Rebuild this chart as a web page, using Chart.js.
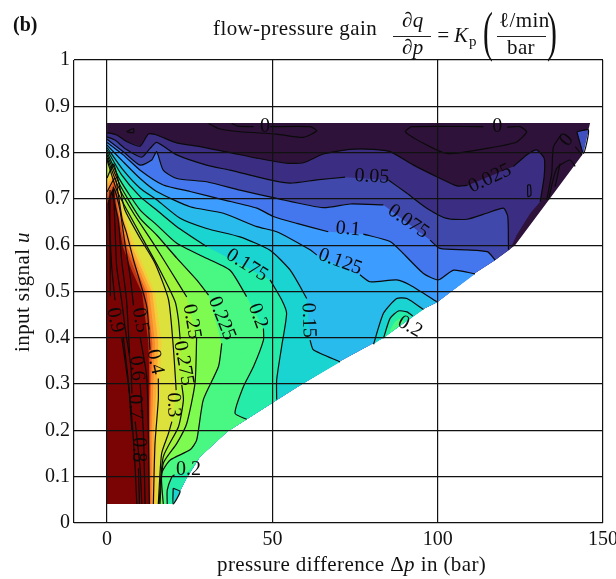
<!DOCTYPE html>
<html>
<head>
<meta charset="utf-8">
<script src="https://cdn.jsdelivr.net/npm/chart.js@4"></script>
<style>
body { margin: 0; background: #fff; }
canvas { display: block; }
</style>
</head>
<body>
<canvas id="c" width="616" height="579"></canvas>
<script>
// all points are [pressure difference, input signal], null = gap for a label
const xTicks = [-10, 0, 50, 100, 150]; // -10 only gives the left frame line, no label
const yTicks = [0, 0.1, 0.2, 0.3, 0.4, 0.5, 0.6, 0.7, 0.8, 0.9, 1];

// right / lower edge of the measured region, top to bottom
const boundary = [
  [143.7, .795], [133.1, .693], [123.4, .600], [117.4, .568], [111.3, .540], [99.8, .477],
  [95.6, .462], [83.5, .400], [70.5, .350], [57.5, .294], [49.9, .259], [36.3, .197],
  [28.1, .143], [24.2, .099], [20.0, .041]
];
const topEdge = [[0, .864], [146.1, .864]];

const kp025 = [[0, .843], [2.9, .838], [5.9, .824], [10, .814], [12.5, .840], [15, .838], [21.1, .821], [28.1, .813], [37.2, .800], [45.3, .788], [54.3, .777], [59.4, .778], [65.4, .797], [73.5, .807], [80.6, .807], [85.6, .802], [92.7, .773], [99.7, .748], [105.8, .728], [109, .729], null, [122.9, .770], [126.9, .795], [129.9, .806], [132.2, .788], [132.2, .748], [131, .694]];
const kp025Strip = [[128, .669], [123.9, .622], [121.9, .591]];
const kp050 = [[0, .834], [2.4, .827], [5.4, .809], [10.5, .790], [13, .809], [15, .822], [21.1, .795], [30.1, .773], [37.2, .762], [49.3, .741], [55.4, .734], [63.4, .741], [72, .747], null, [85.1, .741], [90.7, .712], [96.7, .680], [102.7, .658], [108.8, .656], [114.8, .669], [119.9, .680], [121.2, .662], [121.4, .590]];
const kp075 = [[0, .829], [4.9, .802], [10, .773], [13.5, .784], [15, .802], [17, .762], [21.1, .744], [30.1, .737], [40.2, .719], [51.3, .701], [65.4, .681], [73.5, .689], [83.6, .687], null, [97.7, .611], [100.7, .593], [108.8, .590], [115, .586], [117.4, .568]];
const kp100 = [[0, .822], [4.9, .795], [10, .762], [17, .730], [25.1, .716], [35.2, .698], [45.3, .680], [50.3, .662], [57.4, .647], [66.9, .629], null, [77.5, .624], [85.6, .608], [89.6, .582], [95.7, .539], [100.2, .525], [104.8, .546], [111.3, .538]];
const kp125 = [[0, .816], [4.9, .780], [10, .744], [15, .716], [25.1, .683], [35.2, .669], [45.3, .640], [51.3, .629], [61.4, .590], [63.4, .579], null, [76.5, .536], [79.5, .521], [87.6, .525], [91.6, .514], [99.7, .478]];
const kp150 = [[0, .811], [4.9, .762], [10, .723], [15, .698], [22.1, .658], [30.1, .636], [40.2, .618], [49.3, .589], [55.4, .546], [60.4, .485], null, [61.4, .395], [62.4, .374], [70.5, .348]];
const kp175 = [[0, .806], [4.4, .752], [10, .705], [15, .676], [21.1, .640], [30.1, .597], null, [49.3, .525], [52.8, .482], [54.3, .453], [52.8, .381], [51.3, .309], [51.3, .267]];
const kp200a = [[0, .801], [3.9, .741], [10, .676], [15, .644], [21.1, .604], [29.1, .575], [37.2, .546], [42.2, .489], null, [47.3, .420], [47.3, .395], [44.3, .338], [41.2, .294], [38.7, .237], [42.2, .224]];
const kp200Edge = [[36.3, .197], [28.1, .143], [24.6, .111]];
const kp200b = [[20.4, .104], [19.6, .100], [18.2, .071], [18.2, .041]];
const kp225 = [[0, .795], [3.9, .730], [10, .658], [15, .622], [21.1, .572], [27.1, .525], [30.7, .492], null, [34.7, .388], [33.7, .338], [29.1, .266], [27.1, .179], [25.1, .158], [19.1, .136], [16.5, .107], [17, .041]];
const kp250 = [[0, .789], [3.4, .726], [8, .669], [14, .604], [19.1, .546], [24.1, .488], null, [27.1, .402], [26.6, .302], [24.1, .215], [21.1, .172], [17, .129], [16, .041]];
const kp275 = [[0, .784], [2.9, .719], [6, .676], [11, .611], [15.5, .553], [20.6, .478], [21.6, .438], [22.1, .397], null, [22.6, .298], [23.1, .266], [21.6, .208], [17, .143], [15.7, .041]];
const kp300 = [[0, .745], [2, .775], [4, .72], [5.4, .676], [10, .615], [14.5, .561], [18.6, .482], [20.1, .374], [20.9, .287], null, [19.6, .219], [18.6, .194], [16.5, .150], [15.5, .041]];
const kp400 = [[0, .715], [2.4, .745], [3.6, .70], [4.6, .655], [5.9, .626], [8, .568], [12, .468], [13, .374], null, [15.5, .312], [15.5, .266], [14.5, .172], [14, .041]];
const kp500 = [[0.6, .70], [2.1, .722], [3.9, .676], [5.4, .604], [7, .532], [8, .470], null, [10, .402], [12, .316], [12.5, .194], [12.8, .041]];
const kp600 = [[1.4, .715], [3.4, .654], [4.4, .568], [5.9, .481], [6.8, .366], null, [10, .302], [11, .194], [11.5, .041]];
const kp700 = [[1.9, .726], [2.4, .640], [2.9, .554], [4.4, .481], [5.4, .424], [7.2, .338], [7.5, .280], null, [8.5, .219], [10, .118], [10.5, .041]];
const kp800 = [[0.9, .719], [0.9, .640], [1.4, .554], [2.4, .481], null, [4.9, .402], [6.5, .302], [7.5, .201], null, [9.5, .118], [9.8, .041]];
const kp900 = [[0.5, .698], [0.9, .600], [1, .490], null, [4.4, .402], [5.7, .338], [7, .266], [7.8, .197], [8.5, .118], [9, .041]];

// colour steps in the hot part, they have no contour line of their own
const hot320 = [[0, .74], [2.4, .767], [3.6, .72], [5, .67], [8.5, .596], [14.5, .497], [16.5, .388], [16, .302], [15, .194], [15, .041]];
const hot350 = [[0, .73], [2.3, .76], [3.2, .72], [4.5, .67], [7.6, .596], [13.7, .497], [15.5, .388], [15, .302], [14.2, .194], [14.3, .041]];
const hot380 = [[0, .72], [2.2, .75], [3, .72], [3.9, .67], [6.8, .596], [12.8, .497], [14.5, .388], [14, .302], [13.5, .194], [13.7, .041]];
const hot410 = [[0, .71], [2.2, .74], [2.7, .71], [3.5, .67], [6.1, .596], [12, .497], [13.7, .388], [13.3, .302], [13, .194], [13.2, .041]];
const hot440 = [[0, .70], [2.1, .73], [2.5, .70], [3.2, .67], [5.4, .596], [11.3, .497], [13, .388], [12.9, .302], [12.7, .194], [12.9, .041]];
const hot470 = [[0, .69], [2.1, .722], [2.9, .67], [4.8, .596], [7.5, .545], [10.6, .497], [12.5, .388], [12.8, .302], [12.5, .194], [12.8, .041]];

// small islands
const lobe150 = [[80.6, .386], [83.6, .453], [87.6, .485], [90.7, .485], [95.7, .461]];
const lobe175 = [[83.6, .399], [85.6, .442], [88.1, .458], [90.7, .456], [92.5, .447]];
const lobe200 = [[85.6, .417], [87.1, .435], [88.7, .442], [90, .435]];
const lobe200Edge = [[85.6, .411]];
const cornerPatch = [[142.1, .845], [145.6, .849], [144.1, .798], [142.1, .845]];
const cornerTeal = [[20, .075], [22.1, .068], [20, .041], [20, .075]];
const zeroLoopA1 = [[37.7, .863], [39.7, .857], [44.3, .856]];
const zeroLoopA2 = [[30.7, .863], [33.7, .852], [40.2, .845], [51.3, .840], [59.4, .833], [63.4, .847], [61.4, .856], [49.3, .856]];
const zeroLoopB1 = [[113.8, .856], [92.2, .856], [90.2, .845], [95.7, .820], [102.7, .798], [114.8, .809], [123.9, .823], [126.9, .845], [124.9, .856], [121, .855]];
const cornerLineA = [[133, .698], [134.5, .755], [135, .812], [137.5, .84], null, [141.6, .813], [143.6, .795]];
const cornerLineB = [[133.5, .698], [136, .766], [140, .784], [141.6, .770]];
const cornerLineC = [[135.5, .726], [137, .776]];
const tinyLoop = [[127.2, .730], [128, .730], [128.2, .708], [127.3, .705], [127.2, .730]];
const tinyTriangle = [[5.9, .845], [8, .852], [8, .843], [5.9, .845]];

const labelText = ['0', '0', '0', '0.025', '0.05', '0.075', '0.1', '0.125', '0.175', '0.2', '0.15', '0.225', '0.25', '0.275', '0.3', '0.4', '0.5', '0.6', '0.7', '0.8', '0.9', '0.2', '0.2'];
const labelX = [47.8, 118, 139, 115.8, 80.1, 91.1, 72.9, 70.5, 42.3, 45.6, 60.9, 34.7, 25.6, 23.1, 20.1, 14.5, 10, 9, 8.5, 9.5, 2.4, 91.6, 24.6];
const labelU = [.855, .855, .827, .744, .748, .651, .635, .564, .557, .447, .438, .442, .435, .345, .255, .348, .438, .334, .251, .158, .438, .424, .114];
const labelAngle = [0, 0, -50, -25, 3, 35, 5, 20, 32, 70, 88, 68, 80, 80, 88, 78, 80, 85, 88, 90, 78, 30, 0];

// region above a level = its contour closed along the boundary
function region(edge) {
  const e = edge.filter(Boolean);
  const end = e[e.length - 1][1];
  return [...e, ...boundary.filter(b => b[1] < end), [0, .041], e[0]];
}
const toPts = arr => arr.map(p => p ? { x: p[0], y: p[1] } : { x: NaN, y: NaN });

const fillDs = (pts, color) => ({
  data: toPts(pts), showLine: true, fill: 'shape', backgroundColor: color,
  borderWidth: 0, borderColor: color, pointRadius: 0
});
const lineDs = pts => ({
  data: toPts(pts), showLine: true, fill: false, borderColor: '#0a0a0a',
  borderWidth: 1.2, pointRadius: 0, tension: 0.2
});

const fills = [
  fillDs(region(topEdge), '#2f1239'),
  fillDs(region([...kp025, ...kp025Strip]), '#3b2e82'),
  fillDs(region(kp050), '#4049ab'),
  fillDs(region(kp075), '#4476ee'),
  fillDs(region(kp100), '#3d9cff'),
  fillDs(region(kp125), '#29bbec'),
  fillDs(region(kp150), '#19d4d0'),
  fillDs(region(kp175), '#25eca8'),
  fillDs(region([...kp200a, ...kp200Edge, ...kp200b]), '#48f882'),
  fillDs(region(kp225), '#7dfb50'),
  fillDs(region(kp250), '#a0f43c'),
  fillDs(region(kp275), '#bcec3a'),
  fillDs(region(kp300), '#dce13b'),
  fillDs(region(hot320), '#f5cc3a'),
  fillDs(region(hot350), '#fbab35'),
  fillDs(region(hot380), '#f88a2c'),
  fillDs(region(hot410), '#e5591f'),
  fillDs(region(hot440), '#bf3612'),
  fillDs(region(hot470), '#7a0403'),
  fillDs([...lobe150, [83.5, .400], lobe150[0]], '#19d4d0'),
  fillDs([...lobe175, lobe175[0]], '#25eca8'),
  fillDs([...lobe200, ...lobe200Edge, lobe200[0]], '#48f882'),
  fillDs(cornerPatch, '#3f50c0'),
  fillDs(cornerTeal, '#19d4d0')
];
const lines = [
  kp025, kp050, kp075, kp100, kp125, kp150, kp175, kp200a, kp200b, kp225, kp250, kp275, kp300,
  kp400, kp500, kp600, kp700, kp800, kp900, lobe150, lobe175, cornerPatch, cornerTeal,
  zeroLoopA1, zeroLoopA2, zeroLoopB1, cornerLineA, cornerLineB, cornerLineC, tinyLoop, tinyTriangle
].map(lineDs);

const datasets = [...fills, ...lines];
datasets.forEach((d, i) => { d.order = -i; });

const serif = '"Liberation Serif", serif';

// mixed upright / italic text, left to right
function runs(ctx, parts, x, y) {
  parts.forEach(([text, font]) => {
    ctx.font = font;
    ctx.fillText(text, x, y);
    x += ctx.measureText(text).width;
  });
  return x;
}

const contourLabels = {
  id: 'contourLabels',
  afterDatasetsDraw(chart) {
    const { ctx, scales } = chart;
    ctx.save();
    ctx.fillStyle = '#0a0a0a';
    ctx.font = '20px ' + serif;
    ctx.textAlign = 'center';
    ctx.textBaseline = 'middle';
    labelText.forEach((t, i) => {
      ctx.save();
      ctx.translate(scales.x.getPixelForValue(labelX[i]), scales.y.getPixelForValue(labelU[i]));
      ctx.rotate(labelAngle[i] * Math.PI / 180);
      ctx.fillText(t, 0, 0);
      ctx.restore();
    });
    ctx.restore();
  }
};

// thin tall bracket: a large glyph squeezed sideways
function bracket(ctx, text, x, y) {
  ctx.save();
  ctx.translate(x, y);
  ctx.scale(0.55, 1);
  ctx.font = '54px ' + serif;
  ctx.fillText(text, 0, 0);
  ctx.restore();
}

const annotations = {
  id: 'annotations',
  afterDraw(chart) {
    const ctx = chart.ctx;
    const r = '21px ' + serif, i = 'italic 21px ' + serif;
    ctx.save();
    ctx.fillStyle = '#111';
    ctx.strokeStyle = '#222';
    ctx.textBaseline = 'alphabetic';
    ctx.textAlign = 'left';
    ctx.font = 'bold 20px ' + serif;
    ctx.fillText('(b)', 13, 31);
    ctx.letterSpacing = '0.4px';
    ctx.font = r;
    ctx.fillText('flow-pressure gain', 213, 35);
    runs(ctx, [['∂', r], ['q', i]], 402, 27);
    runs(ctx, [['∂', r], ['p', i]], 402, 54);
    ctx.lineWidth = 1;
    ctx.beginPath();
    ctx.moveTo(393, 36.5); ctx.lineTo(431, 36.5);
    ctx.moveTo(497, 36.5); ctx.lineTo(546, 36.5);
    ctx.stroke();
    ctx.fillText('=', 436, 42);
    runs(ctx, [['K', i]], 454, 42);
    ctx.font = '15px ' + serif;
    ctx.fillText('p', 469, 46);
    bracket(ctx, '(', 483, 50);
    bracket(ctx, ')', 547, 50);
    ctx.font = r;
    ctx.fillText('ℓ/min', 499, 27);
    ctx.fillText('bar', 507, 54);
    runs(ctx, [['pressure difference Δ', r], ['p', i], [' in (bar)', r]], 217, 571);
    ctx.translate(29, 291);
    ctx.rotate(-Math.PI / 2);
    ctx.textAlign = 'left';
    runs(ctx, [['input signal ', r], ['u', i]], -61, 0);
    ctx.restore();
  }
};

new Chart(document.getElementById('c'), {
  type: 'scatter',
  data: { datasets },
  plugins: [contourLabels, annotations],
  options: {
    responsive: false,
    animation: false,
    events: [],
    layout: { padding: { top: 60, right: 13 } },
    plugins: { legend: { display: false }, tooltip: { enabled: false } },
    scales: {
      x: {
        type: 'linear', min: -10, max: 150,
        afterBuildTicks: axis => { axis.ticks = xTicks.map(value => ({ value })); },
        afterFit: axis => { axis.height = 56; axis.paddingLeft = 0; axis.paddingRight = 0; },
        ticks: { color: '#111', font: { family: serif, size: 20 }, padding: 5, maxRotation: 0, autoSkip: false, callback: v => v < 0 ? '' : String(v) },
        grid: { color: '#111', lineWidth: 1.2, drawTicks: false, z: 1 },
        border: { display: false }
      },
      y: {
        type: 'linear', min: 0, max: 1,
        afterBuildTicks: axis => { axis.ticks = yTicks.map(value => ({ value })); },
        afterFit: axis => { axis.width = 74; axis.paddingTop = 0; axis.paddingBottom = 0; },
        ticks: { color: '#111', font: { family: serif, size: 20 }, padding: 4, autoSkip: false, callback: v => String(v) },
        grid: { color: '#111', lineWidth: 1.2, drawTicks: false, z: 1 },
        border: { display: false }
      }
    }
  }
});
</script>
</body>
</html>
